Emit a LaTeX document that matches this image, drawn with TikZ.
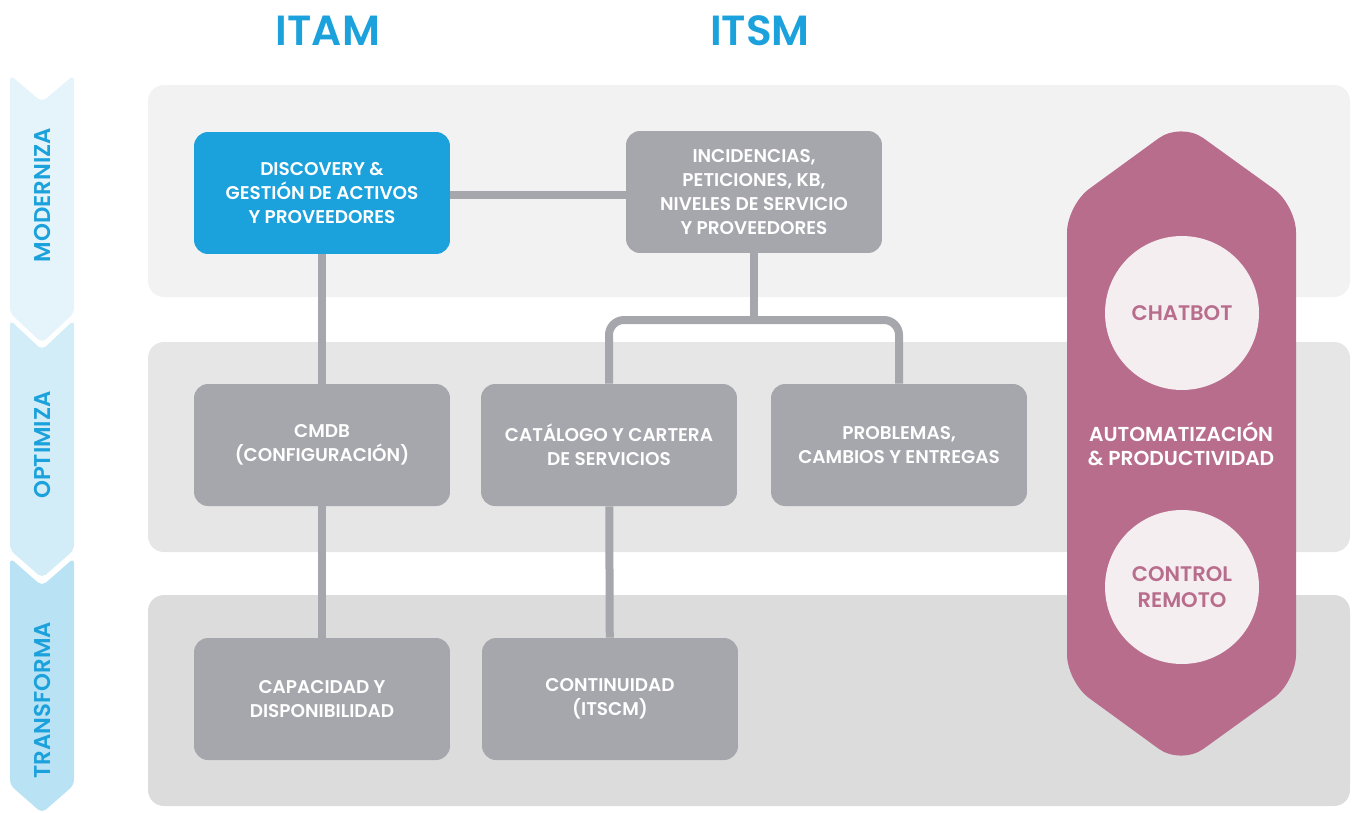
\documentclass[tikz,border=0pt]{standalone}
\usepackage{fontspec}
\setmainfont{Poppins}[BoldFont={Poppins SemiBold}]
\usetikzlibrary{positioning}

\definecolor{itblue}{HTML}{1BA1DB}
\definecolor{boxgray}{HTML}{A6A6AD}
\definecolor{bandA}{HTML}{F2F2F2}
\definecolor{bandB}{HTML}{E6E6E6}
\definecolor{bandC}{HTML}{DCDCDC}
\definecolor{chevA}{HTML}{E5F4FB}
\definecolor{chevB}{HTML}{D2EDF8}
\definecolor{chevC}{HTML}{B9E2F5}
\definecolor{autopink}{HTML}{B96D8C}
\definecolor{circfill}{HTML}{F4EEF1}

\tikzset{
  procbox/.style={rectangle, rounded corners=0.28cm, fill=boxgray, text=white,
    minimum width=5.12cm, minimum height=2.44cm, align=center,
    font=\fontsize{10.5}{13.6}\selectfont\bfseries},
  link/.style={draw=boxgray, line width=0.16cm},
  band/.style={rounded corners=0.32cm},
  stage/.style={rotate=90, text=itblue, font=\fontsize{13}{15}\selectfont\bfseries},
  toolcirc/.style={circle, fill=circfill, text=autopink, minimum size=3.08cm,
    align=center, font=\fontsize{12}{14.5}\selectfont\bfseries}
}

\begin{document}
\begin{tikzpicture}[x=0.02cm, y=-0.02cm]
	\useasboundingbox (0,0) rectangle (1354,812);
	% layer bands
	\fill[bandA, band] (148,85) rectangle (1350,297);
	\fill[bandB, band] (148,342) rectangle (1350,552);
	\fill[bandC, band] (148,595) rectangle (1350,806);
	% stage chevrons
	\fill[chevA, rounded corners=3pt] (10,75) -- (42,102) -- (74,75) -- (74,313) -- (42,343) -- (10,313) -- cycle;
	\fill[chevB, rounded corners=3pt] (10,320) -- (42,350) -- (74,320) -- (74,550) -- (42,578) -- (10,550) -- cycle;
	\fill[chevC, rounded corners=3pt] (10,558) -- (42,586) -- (74,558) -- (74,785) -- (42,813) -- (10,785) -- cycle;
	\node[stage] (moderniza) at (42,195) {MODERNIZA};
	\node[stage] (optimiza) at (42,445) {OPTIMIZA};
	\node[stage] (transforma) at (42,700) {TRANSFORMA};
	% column headers
	\node[text=itblue, font=\fontsize{24}{28}\selectfont\bfseries] (itam) at (328,31) {ITAM};
	\node[text=itblue, font=\fontsize{24}{28}\selectfont\bfseries] (itsm) at (760,31) {ITSM};
	% process boxes
	\node[procbox, fill=itblue] (disc) at (322,193) {DISCOVERY \&\\GESTIÓN DE ACTIVOS\\Y PROVEEDORES};
	\node[procbox] (inc) at (754,192) {INCIDENCIAS,\\PETICIONES, KB,\\NIVELES DE SERVICIO\\Y PROVEEDORES};
	\node[procbox] (cmdb) at (322,445) {CMDB\\(CONFIGURACIÓN)};
	\node[procbox] (cat) at (609,445) {CATÁLOGO Y CARTERA\\DE SERVICIOS};
	\node[procbox] (prob) at (899,445) {PROBLEMAS,\\CAMBIOS Y ENTREGAS};
	\node[procbox] (cap) at (322,699) {CAPACIDAD Y\\DISPONIBILIDAD};
	\node[procbox] (cont) at (610,699) {CONTINUIDAD\\(ITSCM)};
	% connectors
	\coordinate (split) at (754,320);
	\draw[link] (disc.east |- 0,195) -- (inc.west |- 0,195);
	\draw[link] (disc) -- (cmdb);
	\draw[link] (cmdb) -- (cap);
	\draw[link] (cat) -- (cont);
	\draw[link] (inc.south) -- (split);
	\draw[link, rounded corners=0.3cm] (cat.north) |- (split) -| (prob.north);
	% automation banner
	\fill[autopink, rounded corners=0.55cm] (1181,122) -- (1296,205) -- (1296,682) -- (1181,765) -- (1067,682) -- (1067,205) -- cycle;
	\node[toolcirc] (chatbot) at (1182,313) {CHATBOT};
	\node[toolcirc] (remoto) at (1182,587) {CONTROL\\REMOTO};
	\node[text=white, align=center, font=\fontsize{11.5}{14}\selectfont\bfseries] (auto) at (1181,444) {AUTOMATIZACIÓN\\\& PRODUCTIVIDAD};
\end{tikzpicture}
\end{document}
